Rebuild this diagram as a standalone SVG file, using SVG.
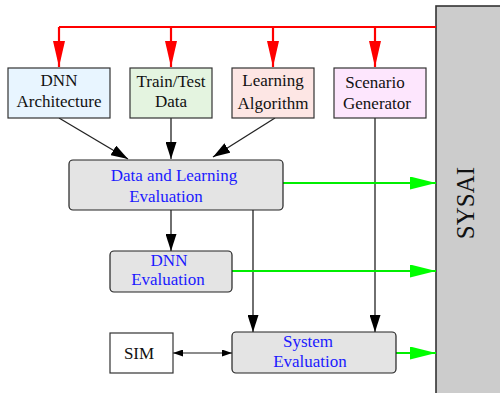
<svg xmlns="http://www.w3.org/2000/svg" width="500" height="393" viewBox="0 0 500 393">
<style>
.t{font-family:"Liberation Serif","Times New Roman",serif;font-size:17px;text-anchor:middle;fill:#111}
.b{fill:#1a1aff}
.box{stroke:#333;stroke-width:1.2}
.ev{fill:#e4e4e4;stroke:#222;stroke-width:1.2}
.red{stroke:#ff0000;stroke-width:2.2;fill:none}
.grn{stroke:#00ee00;stroke-width:2.2;fill:none}
.blk{stroke:#222;stroke-width:1.3;fill:none}
</style>
<defs>
<marker id="ra" markerUnits="userSpaceOnUse" markerWidth="26" markerHeight="12" refX="26" refY="6" orient="auto"><path d="M0,0 L26,6 L0,12 z" fill="#ff0000"/></marker>
<marker id="ga" markerUnits="userSpaceOnUse" markerWidth="26" markerHeight="13" refX="26" refY="6.5" orient="auto"><path d="M0,0 L26,6.5 L0,13 z" fill="#00ff00"/></marker>
<marker id="ba" markerUnits="userSpaceOnUse" markerWidth="17" markerHeight="11" refX="17" refY="5.5" orient="auto"><path d="M0,0 L17,5.5 L0,11 z" fill="#000"/></marker>
<marker id="sa" markerUnits="userSpaceOnUse" markerWidth="10" markerHeight="7" refX="10" refY="3.5" orient="auto-start-reverse"><path d="M0,0 L10,3.5 L0,7 z" fill="#000"/></marker>
</defs>

<g id="sysai">
<rect x="436" y="6" width="70" height="395" fill="#cccccc" stroke="#333" stroke-width="1.6"/>
<text class="t" style="font-size:25px" transform="translate(474,203) rotate(-90)">SYSAI</text>
</g>

<g id="connectors">
<path class="red" d="M59,27 H436"/>
<path class="red" d="M59,27 V67" marker-end="url(#ra)"/>
<path class="red" d="M171,27 V67" marker-end="url(#ra)"/>
<path class="red" d="M273,27 V67" marker-end="url(#ra)"/>
<path class="red" d="M375,27 V67" marker-end="url(#ra)"/>
<path class="blk" d="M59,118 L128,159" marker-end="url(#ba)"/>
<path class="blk" d="M171,118 V159" marker-end="url(#ba)"/>
<path class="blk" d="M275,118 L213,157" marker-end="url(#ba)"/>
<path class="blk" d="M171,210 V251" marker-end="url(#ba)"/>
<path class="blk" d="M253,210 V332" marker-end="url(#ba)"/>
<path class="blk" d="M375,118 V332" marker-end="url(#ba)"/>
<path d="M173,353 H232" stroke="#666" stroke-width="1.6" fill="none" marker-start="url(#sa)" marker-end="url(#sa)"/>
<path class="grn" d="M283,183 H436" marker-end="url(#ga)"/>
<path class="grn" d="M232,271 H436" marker-end="url(#ga)"/>
<path class="grn" d="M396,353 H436" marker-end="url(#ga)"/>
</g>

<g id="dnn-architecture">
<rect class="box" x="8" y="68" width="102" height="50" fill="#e8f5ff"/>
<text class="t" x="59" y="86">DNN</text>
<text class="t" x="59" y="107">Architecture</text>
</g>
<g id="train-test-data">
<rect class="box" x="130" y="68" width="82" height="50" fill="#e4f4e0"/>
<text class="t" x="171" y="87">Train/Test</text>
<text class="t" x="171" y="107">Data</text>
</g>
<g id="learning-algorithm">
<rect class="box" x="232" y="68" width="82" height="50" fill="#fde6e4"/>
<text class="t" x="273" y="86">Learning</text>
<text class="t" x="273" y="109">Algorithm</text>
</g>
<g id="scenario-generator">
<rect class="box" x="334" y="68" width="92" height="50" fill="#fde6fd"/>
<text class="t" x="375" y="88">Scenario</text>
<text class="t" x="377" y="109">Generator</text>
</g>

<g id="data-learning-evaluation">
<rect class="ev" x="69" y="160" width="214" height="50" rx="4"/>
<text class="t b" x="174" y="181">Data and Learning</text>
<text class="t b" x="166" y="202">Evaluation</text>
</g>
<g id="dnn-evaluation">
<rect class="ev" x="110" y="251" width="122" height="41" rx="4"/>
<text class="t b" x="169" y="265.5">DNN</text>
<text class="t b" x="168" y="284.5">Evaluation</text>
</g>
<g id="system-evaluation">
<rect class="ev" x="232" y="332" width="164" height="41" rx="4"/>
<text class="t b" x="308" y="347">System</text>
<text class="t b" x="310" y="367">Evaluation</text>
</g>
<g id="sim">
<rect class="box" x="110" y="333" width="63" height="40" fill="#fff"/>
<text class="t" x="139" y="359">SIM</text>
</g>
</svg>
